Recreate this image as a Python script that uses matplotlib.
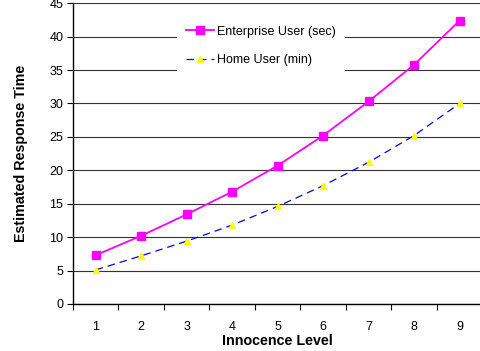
import numpy as np
import matplotlib.pyplot as plt
from matplotlib.ticker import FixedLocator

plt.rcParams['font.family'] = ['Liberation Sans', 'DejaVu Sans']

levels = [1, 2, 3, 4, 5, 6, 7, 8, 9]
enterprise = [7.3, 10.2, 13.4, 16.8, 20.7, 25.2, 30.3, 35.8, 42.4]
home = [5.1, 7.2, 9.4, 11.8, 14.6, 17.7, 21.2, 25.2, 30.0]

fig = plt.figure(figsize=(4.8, 3.51), dpi=100)
ax = fig.add_axes([0.152, 0.134, 0.853, 0.857])

ax.plot(levels, enterprise, color='#ff00ff', lw=1.3, marker='s', ms=6,
        mfc='#ff00ff', mec='#ff00ff', label='Enterprise User (sec)', zorder=3)
ax.plot(levels, home, color='#0000ff', lw=0.9, ls=(0, (6, 4)), marker='^', ms=5,
        mfc='#ffff00', mec='#ffff00', label='Home User (min)', zorder=3)

ax.set_xlim(0.5, 9.5)
ax.set_ylim(0, 45)
ax.set_yticks(range(0, 46, 5))
ax.set_xticks(levels)
ax.xaxis.set_minor_locator(FixedLocator(np.arange(0.5, 9.6, 1)))
ax.tick_params(axis='x', which='major', length=0, pad=12, labelsize=9)
ax.tick_params(axis='x', which='minor', length=4, direction='out', width=0.8)
ax.tick_params(axis='y', length=4, direction='out', width=0.8, labelsize=9, pad=3)

ax.grid(axis='y', color='#333333', lw=0.8)
ax.set_axisbelow(True)
for s in ['top', 'right']:
    ax.spines[s].set_visible(False)
ax.spines['left'].set_linewidth(1.0)
ax.spines['bottom'].set_linewidth(1.0)

ax.set_xlabel('Innocence Level', fontsize=10.3, fontweight='bold', labelpad=1)
ax.set_ylabel('Estimated Response Time', fontsize=10.3, fontweight='bold', labelpad=15)

leg = ax.legend(loc='upper left', bbox_to_anchor=(0.24, 0.975), frameon=True,
                fancybox=False, edgecolor='white', framealpha=1, fontsize=9,
                handlelength=2.2, labelspacing=1.3, handletextpad=0.3,
                borderpad=0.7)
leg.get_frame().set_linewidth(0)

fig.savefig('out.png', dpi=100)
